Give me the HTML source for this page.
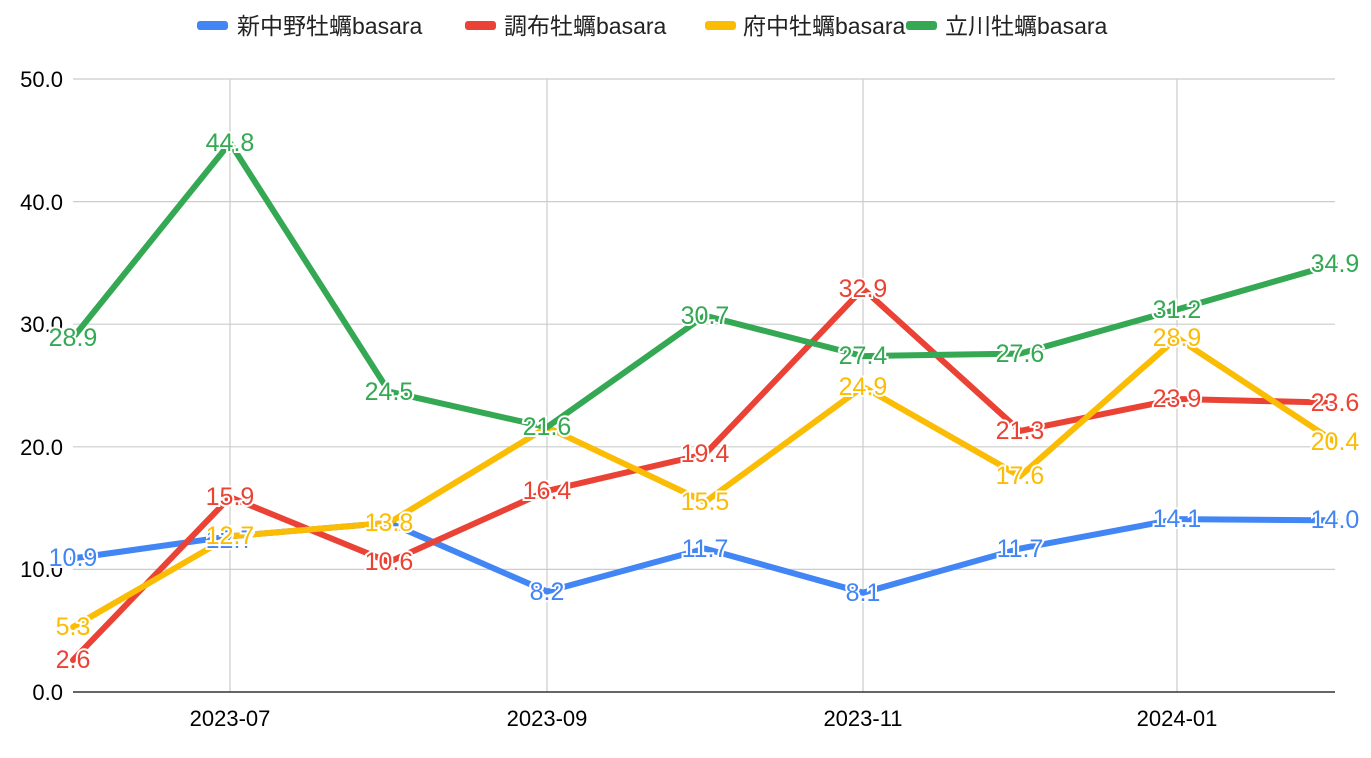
<!DOCTYPE html>
<html><head><meta charset="utf-8"><style>body{margin:0;background:#fff}svg{display:block;font-family:"Liberation Sans","Noto Sans CJK JP",sans-serif}</style></head>
<body>
<svg width="1371" height="758" viewBox="0 0 1371 758">
<g stroke="#ccc" stroke-width="1.2">
<line x1="73" y1="79" x2="1335" y2="79"/><line x1="73" y1="201.6" x2="1335" y2="201.6"/><line x1="73" y1="324.2" x2="1335" y2="324.2"/><line x1="73" y1="446.8" x2="1335" y2="446.8"/><line x1="73" y1="569.4" x2="1335" y2="569.4"/>
<line x1="230" y1="79" x2="230" y2="692"/><line x1="547" y1="79" x2="547" y2="692"/><line x1="863" y1="79" x2="863" y2="692"/><line x1="1177" y1="79" x2="1177" y2="692"/>
</g>
<line x1="73" y1="692" x2="1335" y2="692" stroke="#333" stroke-width="1.5"/>
<g font-size="22" fill="#000" text-anchor="end">
<text x="63" y="87">50.0</text><text x="63" y="210">40.0</text><text x="63" y="332">30.0</text><text x="63" y="455">20.0</text><text x="63" y="577">10.0</text><text x="63" y="700">0.0</text>
</g>
<g font-size="22" fill="#000" text-anchor="middle">
<text x="230" y="726">2023-07</text><text x="547" y="726">2023-09</text><text x="863" y="726">2023-11</text><text x="1177" y="726">2024-01</text>
</g>
<g font-size="23" fill="#222">
<rect x="197" y="21" width="31" height="9" rx="3" fill="#4285f4"/><text x="237" y="34">新中野牡蠣basara</text>
<rect x="465" y="21" width="31" height="9" rx="3" fill="#ea4335"/><text x="504" y="34">調布牡蠣basara</text>
<rect x="705" y="21" width="31" height="9" rx="3" fill="#fbbc04"/><text x="743" y="34">府中牡蠣basara</text>
<rect x="906" y="21" width="31" height="9" rx="3" fill="#34a853"/><text x="945" y="34">立川牡蠣basara</text>
</g>
<g fill="none" stroke-width="6" stroke-linejoin="round" stroke-linecap="round">
<polyline stroke="#4285f4" points="73,558.4 230,536.3 389,522.8 547,591.5 705,548.6 863,592.7 1020,548.6 1177,519.1 1335,520.4"/>
<polyline stroke="#ea4335" points="73,660.1 230,497.1 389,562.0 547,490.9 705,454.2 863,288.7 1020,430.9 1177,399.0 1335,402.7"/>
<polyline stroke="#fbbc04" points="73,627.0 230,536.3 389,522.8 547,427.2 705,502.0 863,386.7 1020,476.2 1177,337.7 1335,441.9"/>
<polyline stroke="#34a853" points="73,337.7 230,142.8 389,391.6 547,427.2 705,315.6 863,356.1 1020,353.6 1177,309.5 1335,264.1"/>
</g>
<g font-size="25" text-anchor="middle" stroke="#fff" stroke-width="4" paint-order="stroke" dominant-baseline="central">
<g fill="#4285f4"><text x="73" y="558">10.9</text><text x="230" y="540">12.7</text><text x="547" y="592">8.2</text><text x="705" y="549">11.7</text><text x="863" y="593">8.1</text><text x="1020" y="549">11.7</text><text x="1177" y="519">14.1</text><text x="1335" y="520">14.0</text></g>
<g fill="#ea4335"><text x="73" y="660">2.6</text><text x="230" y="497">15.9</text><text x="389" y="562">10.6</text><text x="547" y="491">16.4</text><text x="705" y="454">19.4</text><text x="863" y="289">32.9</text><text x="1020" y="431">21.3</text><text x="1177" y="399">23.9</text><text x="1335" y="403">23.6</text></g>
<g fill="#fbbc04"><text x="73" y="627">5.3</text><text x="230" y="536">12.7</text><text x="389" y="523">13.8</text><text x="705" y="502">15.5</text><text x="863" y="387">24.9</text><text x="1020" y="476">17.6</text><text x="1177" y="338">28.9</text><text x="1335" y="442">20.4</text></g>
<g fill="#34a853"><text x="73" y="338">28.9</text><text x="230" y="143">44.8</text><text x="389" y="392">24.5</text><text x="547" y="427">21.6</text><text x="705" y="316">30.7</text><text x="863" y="356">27.4</text><text x="1020" y="354">27.6</text><text x="1177" y="310">31.2</text><text x="1335" y="264">34.9</text></g>
</g>
</svg>
</body></html>
